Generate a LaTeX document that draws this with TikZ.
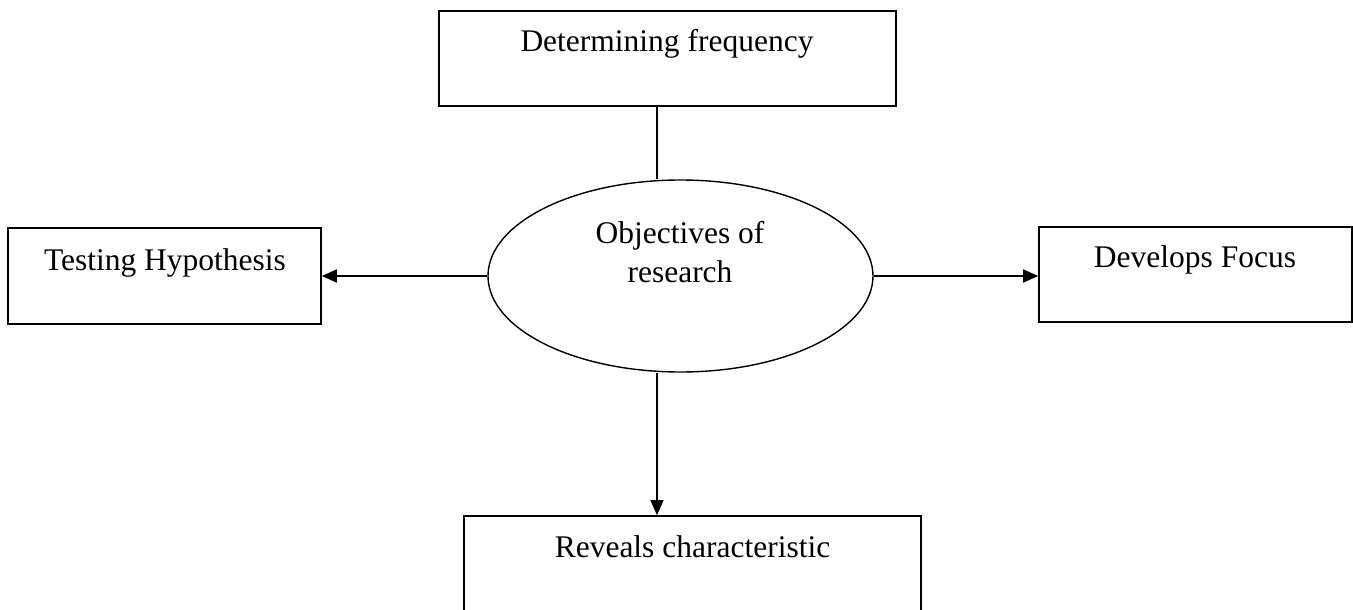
\documentclass[tikz,border=0pt]{standalone}
\usepackage{fontspec}
\setmainfont{Liberation Serif}
\usetikzlibrary{arrows.meta,shapes.geometric}
\begin{document}
\begin{tikzpicture}[x=1pt,y=-1pt,
  box/.style={draw,line width=1.6pt,rectangle,inner sep=0pt},
  oval/.style={draw,line width=1.4pt,ellipse,inner sep=0pt,minimum width=385pt,minimum height=192pt},
  txt/.style={font=\fontsize{31.5}{38}\selectfont,inner sep=0pt,anchor=base},
  conn/.style={line width=1.3pt},
  arr/.style={conn,-{Triangle[length=15pt,width=13pt]}}]
\useasboundingbox (0,0) rectangle (1353,610);
\begin{scope}
\clip (0,0) rectangle (1353,610);
% boxes
\node[box,minimum width=457pt,minimum height=95pt] (top) at (667.5,58.5) {};
\node[box,minimum width=313pt,minimum height=96pt] (left) at (164.5,276) {};
\node[box,minimum width=313pt,minimum height=95pt] (right) at (1195.5,274.5) {};
\node[box,minimum width=457pt,minimum height=120pt] (bottom) at (692.5,576) {};
\node[oval] (ell) at (680.5,276) {};
% texts
\node[txt] (toptxt) at (667,52) {Determining frequency};
\node[txt] (lefttxt) at (165,270) {Testing Hypothesis};
\node[txt] (righttxt) at (1195,267) {Develops Focus};
\node[txt] (elltxt1) at (680,243) {Objectives of};
\node[txt] (elltxt2) at (680,282) {research};
\node[txt] (bottomtxt) at (692.5,557) {Reveals characteristic};
% connectors
\coordinate (vx) at (657,0);
\draw[conn] (top.south -| vx) -- (ell.north -| vx);
\draw[arr] (ell.west) -- (left.east);
\draw[arr] (ell.east) -- (right.west |- ell.east);
\draw[arr] (ell.south -| vx) -- (bottom.north -| vx);
\end{scope}
\end{tikzpicture}
\end{document}
